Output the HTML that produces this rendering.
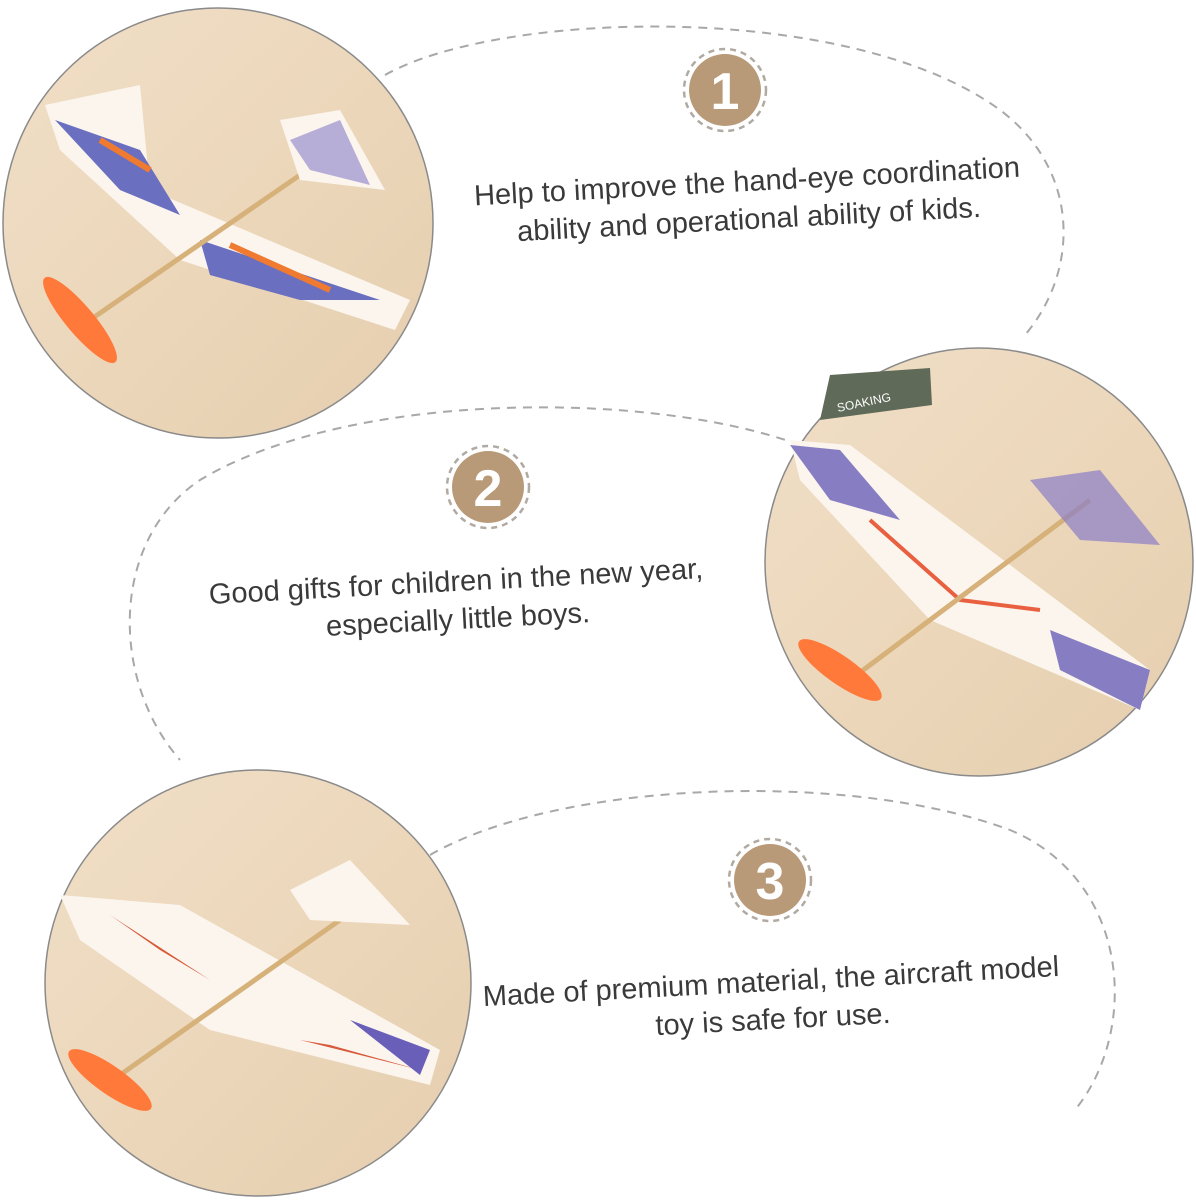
<!DOCTYPE html>
<html><head><meta charset="utf-8"><style>
body{margin:0;width:1196px;height:1201px;background:#fff;overflow:hidden;position:relative;font-family:"Liberation Sans",sans-serif}
svg{position:absolute;left:0;top:0}
.t{position:absolute;color:#3a3a3a;font-size:29px;line-height:38px;text-align:center;transform:rotate(-3deg);white-space:nowrap}
</style></head><body>
<svg width="1196" height="1201" viewBox="0 0 1196 1201">
<defs>
<linearGradient id="w" x1="0" y1="0" x2="1" y2="1">
<stop offset="0" stop-color="#f0dfc7"/><stop offset="0.5" stop-color="#ecd7bb"/><stop offset="1" stop-color="#e5ceae"/>
</linearGradient>
</defs>
<g fill="none" stroke="#a8a8a8" stroke-width="2" stroke-dasharray="9 7">
<path d="M385,75 C500,10 850,0 1000,110 C1080,170 1080,270 1025,335"/>
<path d="M800,445 C650,390 350,390 200,480 C110,540 110,680 180,760"/>
<path d="M430,855 C560,780 850,770 1010,830 C1130,880 1140,1030 1075,1110"/>
</g>
<circle cx="218" cy="223" r="215" fill="url(#w)" stroke="#8a8a8a" stroke-width="1.5"/>
<path d="M45,105 L140,85 L150,190 L410,300 L395,330 L180,260 L60,150Z" fill="#fbf5ee"/>
<path d="M55,120 L140,150 L180,215 L120,190Z M200,240 L380,300 L300,300 L210,275Z" fill="#6a6fc0"/>
<path d="M100,140 L150,170 M230,245 L330,290" stroke="#f07a30" stroke-width="6"/>
<path d="M90,320 L300,175" stroke="#d6b27a" stroke-width="5"/>
<path d="M280,120 L340,110 L385,190 L300,180Z" fill="#fbf5ee"/>
<path d="M290,140 L340,120 L370,185 L310,170Z" fill="#8a7ec8" opacity=".6"/>
<ellipse cx="80" cy="320" rx="14" ry="55" transform="rotate(-40 80 320)" fill="#ff7a3a"/>
<circle cx="979" cy="562" r="214" fill="url(#w)" stroke="#8a8a8a" stroke-width="1.5"/>
<path d="M830,375 L930,368 L932,405 L820,420Z" fill="#5f6a58"/>
<text x="838" y="412" font-size="12" fill="#fff" transform="rotate(-12 838 412)">SOAKING</text>
<path d="M790,440 L850,445 L1150,670 L1140,710 L930,620 L800,480Z" fill="#fbf5ee"/>
<path d="M790,445 L840,450 L900,520 L830,500Z M1050,630 L1150,670 L1140,710 L1060,670Z" fill="#6a5fb8" opacity=".8"/>
<path d="M870,520 L960,600 L1040,610" fill="none" stroke="#e86040" stroke-width="4"/>
<path d="M850,680 L1090,500" stroke="#d6b27a" stroke-width="5"/>
<path d="M1030,480 L1100,470 L1160,545 L1080,540Z" fill="#8a7ec8" opacity=".7"/>
<ellipse cx="840" cy="670" rx="14" ry="50" transform="rotate(-55 840 670)" fill="#ff7a3a"/>
<circle cx="258" cy="983" r="213" fill="url(#w)" stroke="#8a8a8a" stroke-width="1.5"/>
<path d="M60,895 L180,905 L440,1050 L430,1085 L210,1030 L80,940Z" fill="#fbf5ee"/>
<path d="M110,915 L210,980 L160,950Z M300,1040 L420,1070 L330,1045Z" fill="#d85a3a"/>
<path d="M350,1020 L430,1050 L420,1075Z" fill="#6a5fb8"/>
<path d="M120,1075 L340,920" stroke="#d6b27a" stroke-width="5"/>
<path d="M290,890 L350,860 L410,925 L310,920Z" fill="#fbf5ee"/>
<ellipse cx="110" cy="1080" rx="14" ry="50" transform="rotate(-55 110 1080)" fill="#ff7a3a"/>
<g>
<circle cx="725" cy="90" r="41" fill="none" stroke="#b0aaa2" stroke-width="2.5" stroke-dasharray="6 5"/>
<circle cx="725" cy="90" r="36" fill="#b99a78"/>
<text x="725" y="109" font-size="52" font-weight="bold" fill="#fff" text-anchor="middle">1</text>
<circle cx="488" cy="487" r="41" fill="none" stroke="#b0aaa2" stroke-width="2.5" stroke-dasharray="6 5"/>
<circle cx="488" cy="487" r="36" fill="#b99a78"/>
<text x="488" y="506" font-size="52" font-weight="bold" fill="#fff" text-anchor="middle">2</text>
<circle cx="770" cy="880" r="41" fill="none" stroke="#b0aaa2" stroke-width="2.5" stroke-dasharray="6 5"/>
<circle cx="770" cy="880" r="36" fill="#b99a78"/>
<text x="770" y="899" font-size="52" font-weight="bold" fill="#fff" text-anchor="middle">3</text>
</g>
</svg>
<div class="t" style="left:398px;top:163px;width:700px">Help to improve the hand-eye coordination<br>ability and operational ability of kids.</div>
<div class="t" style="left:107px;top:563px;width:700px">Good gifts for children in the new year,<br>especially little boys.</div>
<div class="t" style="left:422px;top:963px;width:700px">Made of premium material, the aircraft model<br>toy is safe for use.</div>
</body></html>
